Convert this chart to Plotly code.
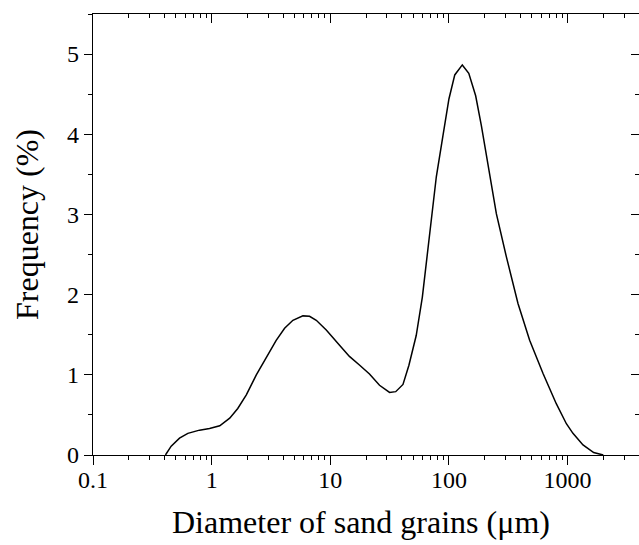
import math
import plotly.graph_objects as go

# Data
diameter = [0.408, 0.456, 0.536, 0.63, 0.79, 0.96, 1.17, 1.42, 1.66, 1.96, 2.38, 2.88,
            3.5, 4.12, 4.84, 5.88, 6.69, 7.62, 9.25, 11.97, 14.5, 17.7, 21.4, 26.0,
            31.6, 35.6, 41, 46, 53, 59.7, 71, 78.3, 89, 100, 112, 129.6, 147, 168,
            187.5, 213, 251, 305, 382, 479, 620, 803, 977, 1110, 1349, 1660, 2000]
frequency = [0, 0.11, 0.21, 0.27, 0.31, 0.33, 0.365, 0.46, 0.58, 0.75, 1.0, 1.22,
             1.43, 1.58, 1.68, 1.735, 1.73, 1.68, 1.56, 1.37, 1.23, 1.12, 1.01, 0.87,
             0.78, 0.79, 0.88, 1.12, 1.49, 1.97, 2.93, 3.47, 3.98, 4.44, 4.74, 4.865,
             4.76, 4.48, 4.11, 3.63, 3.01, 2.47, 1.89, 1.43, 1.02, 0.64, 0.39, 0.27,
             0.125, 0.03, 0]

x_tickvals = [0.1, 1, 10, 100, 1000]
x_ticktext = ["0.1", "1", "10", "100", "1000"]
x_minor = [m * d for d in [0.1, 1, 10, 100, 1000] for m in range(2, 10) if m * d <= 4000]
y_tickvals = [0, 1, 2, 3, 4, 5]
y_ticktext = ["0", "1", "2", "3", "4", "5"]
y_minor = [0.5, 1.5, 2.5, 3.5, 4.5, 5.5]

FONT = "Liberation Serif"
xrange = [-1, math.log10(4000)]
yrange = [0, 5.5]

fig = go.Figure()
fig.add_trace(go.Scatter(x=diameter, y=frequency, mode="lines",
                         line=dict(color="black", width=1.5), showlegend=False))

common_x = dict(type="log", range=xrange, showgrid=False, zeroline=False,
                tickvals=x_tickvals, ticktext=x_ticktext, tickcolor="black",
                linecolor="black", linewidth=1.3, tickwidth=1.3)
fig.update_layout(
    width=639, height=545,
    margin=dict(l=93, r=0, t=14, b=90),
    paper_bgcolor="white", plot_bgcolor="white",
    font=dict(family=FONT, color="black", size=24),
    xaxis=dict(**common_x, showline=True, ticks="outside", ticklen=9,
               ticklabelstandoff=-6,
               tickfont=dict(family=FONT, size=24, color="black"),
               minor=dict(tickvals=x_minor, ticks="outside", ticklen=4,
                          tickcolor="black", tickwidth=1.1, showgrid=False)),
    xaxis2=dict(**common_x, overlaying="x", side="top", anchor="y", showline=True,
                ticks="inside", ticklen=9, showticklabels=False,
                minor=dict(tickvals=x_minor, ticks="inside", ticklen=4,
                           tickcolor="black", tickwidth=1.1, showgrid=False)),
    yaxis=dict(range=yrange, showgrid=False, zeroline=False, showline=True,
               linecolor="black", linewidth=1.3, ticks="outside", ticklen=8,
               tickwidth=1.3, tickcolor="black",
               tickvals=y_tickvals, ticktext=y_ticktext,
               tickfont=dict(family=FONT, size=24, color="black"),
               minor=dict(tickvals=y_minor, ticks="outside", ticklen=4,
                          tickcolor="black", tickwidth=1.1, showgrid=False)),
    yaxis2=dict(range=yrange, overlaying="y", side="right", anchor="x",
                showgrid=False, zeroline=False, showline=False,
                ticks="inside", ticklen=8, tickwidth=1.3, tickcolor="black",
                tickvals=y_tickvals, showticklabels=False,
                minor=dict(tickvals=y_minor, ticks="inside", ticklen=4,
                           tickcolor="black", tickwidth=1.1, showgrid=False)),
    annotations=[
        dict(text="Diameter of sand grains (μm)", xref="paper", yref="paper",
             x=(361 - 93) / 546, y=(455 - 522) / 441, xanchor="center", yanchor="middle",
             showarrow=False, font=dict(family=FONT, size=32, color="black")),
        dict(text="Frequency (%)", xref="paper", yref="paper", textangle=-90,
             x=(27 - 93) / 546, y=(455 - 225) / 441, xanchor="center", yanchor="middle",
             showarrow=False, font=dict(family=FONT, size=32, color="black")),
    ],
)
# invisible trace so the mirrored (top/right) axes render
fig.add_trace(go.Scatter(x=[1], y=[0], xaxis="x2", yaxis="y2", mode="markers",
                         marker=dict(opacity=0), showlegend=False, hoverinfo="skip"))

fig.write_html("out.html", config={"displayModeBar": False},
               post_script="document.body.style.margin='0';document.body.style.overflow='hidden';")
